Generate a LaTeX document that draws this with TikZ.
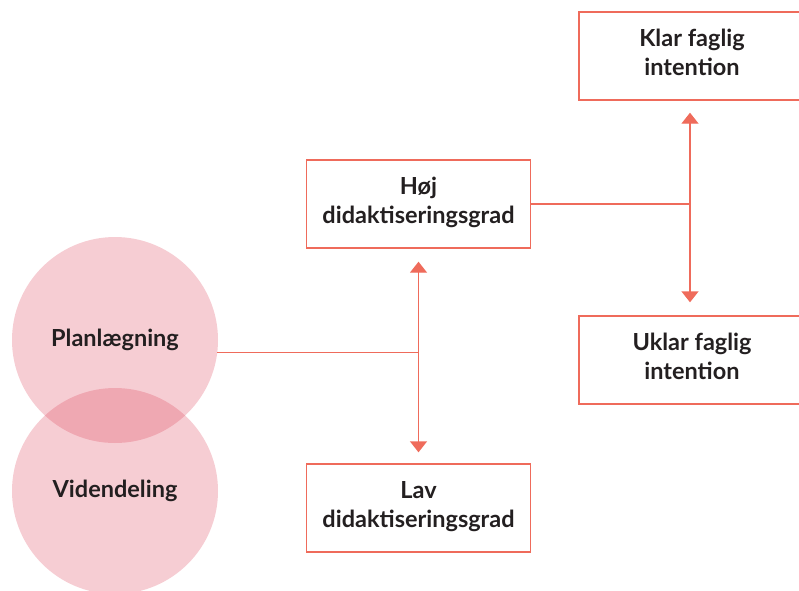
\documentclass[tikz,border=0pt]{standalone}
\usepackage{fontspec}
\setmainfont{Lato}
\usetikzlibrary{arrows.meta,positioning}
\definecolor{dkred}{HTML}{EF6B5B}
\definecolor{dkrose}{HTML}{DA2F48}
\definecolor{dktext}{HTML}{231F20}
\tikzset{
  box/.style={draw=dkred, line width=1.4pt, align=center, minimum width=224pt,
              minimum height=88pt, text depth=8pt, text=dktext,
              font=\fontsize{23.5}{29}\selectfont\bfseries},
  blob/.style={circle, minimum size=206pt, fill=dkrose, fill opacity=0.24,
               text opacity=1, text=dktext, font=\fontsize{23.5}{29}\selectfont\bfseries},
  line/.style={draw=dkred, line width=1.4pt},
  arr/.style={line, -{Triangle[length=11pt, width=17pt]}},
}

\begin{document}
\begin{tikzpicture}[x=1pt, y=-1pt]
    \useasboundingbox (0,0) rectangle (799,590);
    \node[blob] (plan)  at (115,340)   {Planlægning};
    \node[blob] (viden) at (115,491)   {Videndeling};
    \node[box]  (hoj)   at (418.5,204) {Høj\\didaktiseringsgrad};
    \node[box]  (lav)   at (418.5,508) {Lav\\didaktiseringsgrad};
    \node[box, minimum width=226pt] (klar)  at (692,56)  {Klar faglig\\intention};
    \node[box, minimum width=226pt] (uklar) at (692,360) {Uklar faglig\\intention};
    % junctions
    \coordinate (jl) at (hoj.south |- plan.-7);
    \coordinate (jr) at ([xshift=-2pt]klar.south |- hoj.east);
    \draw[line] (plan.-7) -- (jl);
    \draw[arr] (jl) -- ([yshift=-13pt]hoj.south);
    \draw[arr] (jl) -- ([yshift=11pt]lav.north);
    \draw[line] (hoj.east) -- (jr);
    \draw[arr] (jr) -- ([xshift=-2pt, yshift=-12pt]klar.south);
    \draw[arr] (jr) -- ([xshift=-2pt, yshift=13pt]uklar.north);
\end{tikzpicture}
\end{document}
